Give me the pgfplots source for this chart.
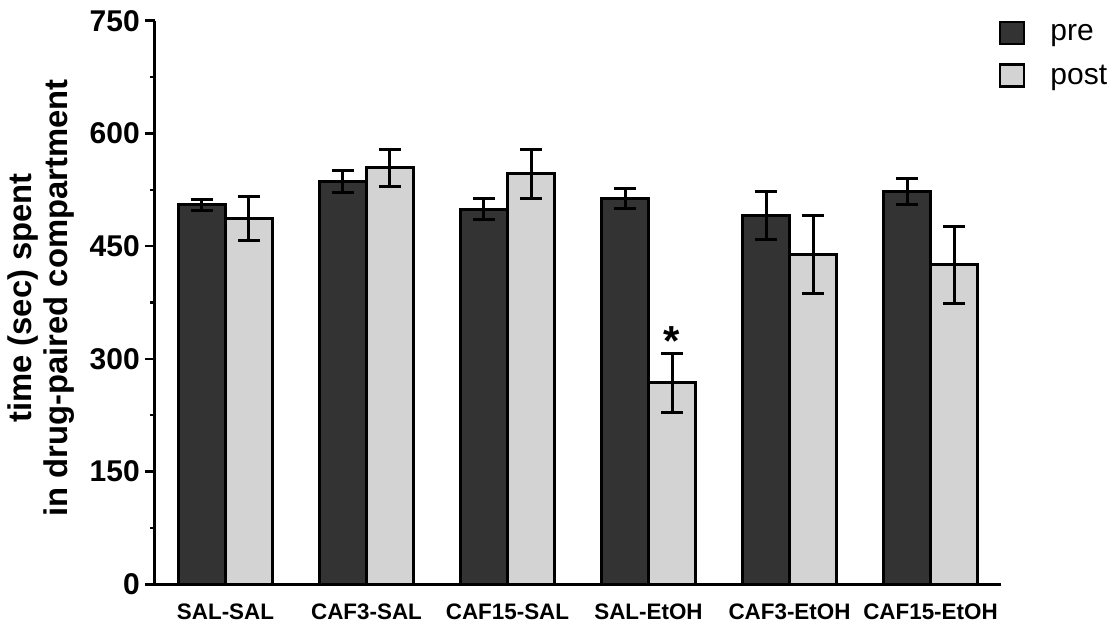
\documentclass[border=0pt]{standalone}
\usepackage{pgfplots}
\pgfplotsset{compat=1.18}
\usepackage{fontspec}
\setmainfont{Liberation Sans}
\definecolor{darkbar}{HTML}{333333}
\definecolor{lightbar}{HTML}{D3D3D3}
\begin{document}
\begin{tikzpicture}
\useasboundingbox (-155pt,-39.7pt) rectangle (961pt,584.3pt);
\begin{axis}[
  at={(0pt,0pt)}, anchor=south west,
  scale only axis,
  width=846pt, height=563.6pt,
  xmin=-0.5, xmax=5.5,
  ymin=0, ymax=750,
  axis x line*=bottom, axis y line*=left,
  axis line style={line width=3pt, black},
  ybar=0pt, bar width=47pt,
  xtick={0,...,5},
  xticklabels={SAL-SAL,CAF3-SAL,CAF15-SAL,SAL-EtOH,CAF3-EtOH,CAF15-EtOH},
  xtick style={draw=none},
  ytick={0,150,...,750},
  yticklabels={0,150,300,450,600,750},
  minor ytick={75,225,...,675},
  tick align=outside,
  major tick length=10pt, minor tick length=5pt,
  every tick/.style={black, line width=2.5pt},
  yticklabel style={font=\bfseries\fontsize{30}{34}\selectfont, anchor=east, inner sep=0pt, xshift=-5pt},
  xticklabel style={font=\bfseries\fontsize{22.4}{26}\selectfont, anchor=base, yshift=-25pt},
  every axis y label/.style={at={(axis description cs:-0.1348,0.508)}, rotate=90, anchor=center, align=center, font=\bfseries\fontsize{32.8}{36}\selectfont},
  ylabel={time (sec) spent\\in drug-paired compartment},
  legend style={at={(axis description cs:0.9976,1.0)}, anchor=north west, draw=none, fill=none,
    font=\fontsize{30}{36}\selectfont, row sep=18pt, inner sep=0pt, outer sep=0pt,
    /tikz/every odd column/.append style={column sep=23pt}},
  legend cell align=left,
  legend image code/.code={\draw[#1, line width=2.5pt] (0pt,-11pt) rectangle (24pt,11pt);},
  clip=false,
]
\addplot[fill=darkbar, draw=black, line width=3pt,
  error bars/.cd, y dir=both, y explicit,
  error bar style={line width=3pt, black, solid},
  error mark options={rotate=90, mark size=11pt, line width=3pt, black}]
  coordinates {(0,505) +- (0,7) (1,536) +- (0,14) (2,499) +- (0,14) (3,513) +- (0,13.5) (4,491) +- (0,32) (5,523) +- (0,17)};
\addplot[fill=lightbar, draw=black, line width=3pt,
  error bars/.cd, y dir=both, y explicit,
  error bar style={line width=3pt, black, solid},
  error mark options={rotate=90, mark size=11pt, line width=3pt, black}]
  coordinates {(0,487) +- (0,29.5) (1,554) +- (0,25) (2,546) +- (0,32) (3,268) +- (0,39) (4,439) +- (0,51.5) (5,425) +- (0,51.5)};
\legend{pre, post}
\node[anchor=base, font=\bfseries\fontsize{42}{42}\selectfont] at (axis cs:3.1667,304) {*};
\end{axis}
\end{tikzpicture}
\end{document}
